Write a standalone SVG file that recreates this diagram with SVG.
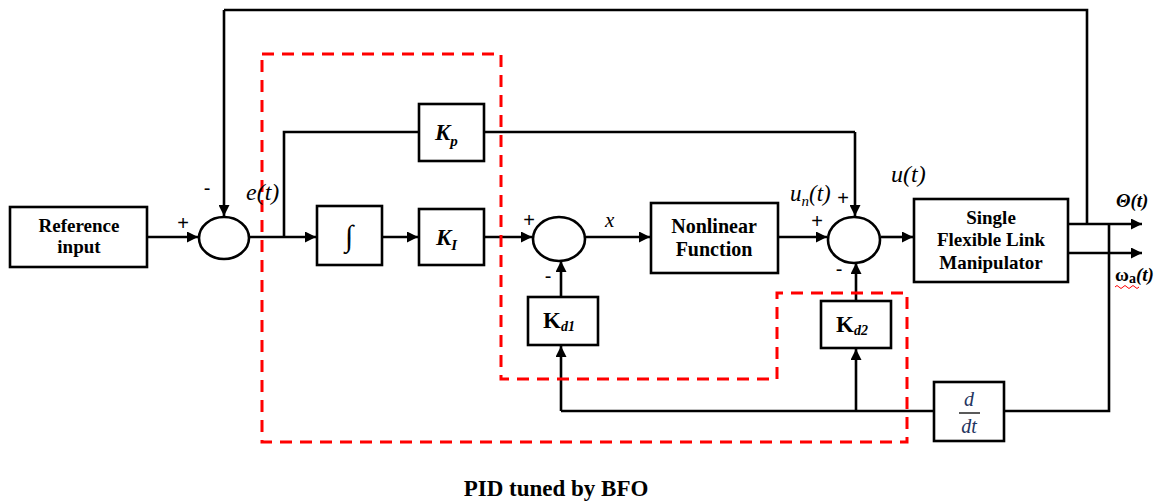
<svg xmlns="http://www.w3.org/2000/svg" width="1173" height="503" viewBox="0 0 1173 503">
<defs>
<marker id="arr" viewBox="0 0 10 10" refX="10" refY="5" markerWidth="11" markerHeight="11" markerUnits="userSpaceOnUse" orient="auto">
<path d="M0,0 L10,5 L0,10 z" fill="#000"/>
</marker>
<style>
.box{fill:#fff;stroke:#000;stroke-width:2.6}
.sum{fill:#fff;stroke:#000;stroke-width:2.6}
.ln{fill:none;stroke:#000;stroke-width:2.6}
.ar{fill:none;stroke:#000;stroke-width:2.6;marker-end:url(#arr)}
.bt{font-family:'Liberation Serif',serif;font-weight:bold;fill:#000;text-anchor:middle}
.it{font-family:'Liberation Serif',serif;font-style:italic;fill:#000}
.sg{font-family:'Liberation Sans',sans-serif;fill:#000;text-anchor:middle}
.red{fill:none;stroke:#f00;stroke-width:3;stroke-dasharray:12,8}
</style>
</defs>
<rect width="1173" height="503" fill="#fff"/>

<g id="connectors">
<path class="ln" d="M1087,224 V10 H224"/>
<path class="ar" d="M224,10 V216"/>
<path class="ar" d="M147,237 H198"/>
<path class="ar" d="M250,237 H316"/>
<path class="ln" d="M284,237 V132 H419"/>
<path class="ln" d="M484,132 H855"/>
<path class="ar" d="M855,132 V216"/>
<path class="ar" d="M382,237 H418"/>
<path class="ar" d="M484,237 H532"/>
<path class="ar" d="M586,237 H650"/>
<path class="ar" d="M778,237 H827"/>
<path class="ar" d="M881,237 H913"/>
<path class="ar" d="M1068,224 H1142"/>
<path class="ar" d="M1068,253 H1142"/>
<path class="ar" d="M561,297 V261"/>
<path class="ar" d="M856,301 V263"/>
<path class="ln" d="M1109,224 V411 H1004"/>
<path class="ln" d="M934,411 H561"/>
<path class="ar" d="M561,411 V346"/>
<path class="ar" d="M856,411 V349"/>
</g>

<g id="pid-region">
<path class="red" d="M262,54 H501 V379 H777 V293 H907 V442 H262 Z"/>
</g>

<g id="reference">
<rect class="box" x="10" y="207" width="137" height="60"/>
<text class="bt" x="79" y="232" font-size="19">Reference</text>
<text class="bt" x="79" y="253" font-size="19">input</text>
</g>

<g id="sum1">
<ellipse class="sum" cx="224" cy="238" rx="25" ry="21"/>
<text class="sg" x="183" y="230" font-size="20">+</text>
<text class="sg" x="207" y="195" font-size="20">-</text>
</g>
<text class="it" x="246" y="200" font-size="24">e(t)</text>

<g id="integrator">
<rect class="box" x="317" y="206" width="65" height="59"/>
<text x="349" y="246" font-family="'Liberation Serif',serif" font-weight="bold" font-size="30" text-anchor="middle">∫</text>
</g>

<g id="kp">
<rect class="box" x="419" y="104" width="65" height="57"/>
<text x="435" y="140" font-family="'Liberation Serif',serif" font-weight="bold" font-style="italic" font-size="23">K<tspan font-size="15" dy="6">p</tspan></text>
</g>

<g id="ki">
<rect class="box" x="419" y="209" width="65" height="56"/>
<text x="436" y="245" font-family="'Liberation Serif',serif" font-weight="bold" font-style="italic" font-size="23">K<tspan font-size="15" dy="5">I</tspan></text>
</g>

<g id="sum2">
<ellipse class="sum" cx="559" cy="239" rx="26" ry="22"/>
<text class="sg" x="529" y="227" font-size="20">+</text>
<text class="sg" x="548" y="283" font-size="20">-</text>
</g>
<text x="605" y="227" font-family="'Liberation Serif',serif" font-style="italic" font-size="21">x</text>

<g id="nonlinear">
<rect class="box" x="651" y="203" width="127" height="70"/>
<text class="bt" x="714" y="233" font-size="20">Nonlinear</text>
<text class="bt" x="714" y="256" font-size="20">Function</text>
</g>

<g id="sum3">
<ellipse class="sum" cx="854" cy="240" rx="26" ry="23"/>
<text class="sg" x="843" y="205" font-size="20">+</text>
<text class="sg" x="817" y="228" font-size="20">+</text>
<text class="sg" x="839" y="276" font-size="20">-</text>
</g>
<text class="it" x="790" y="201" font-size="23">u<tspan font-size="15" dy="5">n</tspan><tspan dy="-5">(t)</tspan></text>
<text class="it" x="891" y="182" font-size="24">u(t)</text>

<g id="manipulator">
<rect class="box" x="914" y="199" width="154" height="83"/>
<text class="bt" x="991" y="224" font-size="19">Single</text>
<text class="bt" x="991" y="246" font-size="19">Flexible Link</text>
<text class="bt" x="991" y="269" font-size="19">Manipulator</text>
</g>
<text x="1116" y="207" font-family="'Liberation Serif',serif" font-weight="bold" font-style="italic" font-size="19">Θ(t)</text>
<text x="1115" y="281" font-family="'Liberation Serif',serif" font-weight="bold" font-size="19">ω<tspan font-size="14" dy="2">a</tspan><tspan dy="-2" font-style="italic">(t)</tspan></text>
<path d="M1115,287 q2,-3 4,0 t4,0 t4,0 t4,0 t4,0 t4,0" fill="none" stroke="#f00" stroke-width="1"/>

<g id="kd1">
<rect class="box" x="528" y="297" width="70" height="48"/>
<text x="543" y="328" font-family="'Liberation Serif',serif" font-weight="bold" font-size="23">K<tspan font-size="14" font-style="italic" dy="3">d1</tspan></text>
</g>

<g id="kd2">
<rect class="box" x="821" y="301" width="70" height="47"/>
<text x="836" y="332" font-family="'Liberation Serif',serif" font-weight="bold" font-size="23">K<tspan font-size="14" font-style="italic" dy="3">d2</tspan></text>
</g>

<g id="ddt">
<rect class="box" x="934" y="382" width="70" height="59"/>
<text x="969" y="406" font-family="'Liberation Serif',serif" font-style="italic" font-size="20" text-anchor="middle" fill="#1f3560">d</text>
<line x1="959" y1="413" x2="980" y2="413" stroke="#000" stroke-width="1.3"/>
<text x="969" y="433" font-family="'Liberation Serif',serif" font-style="italic" font-size="20" text-anchor="middle" fill="#1f3560">dt</text>
</g>

<text class="bt" x="556" y="496" font-size="23">PID tuned by BFO</text>
</svg>
